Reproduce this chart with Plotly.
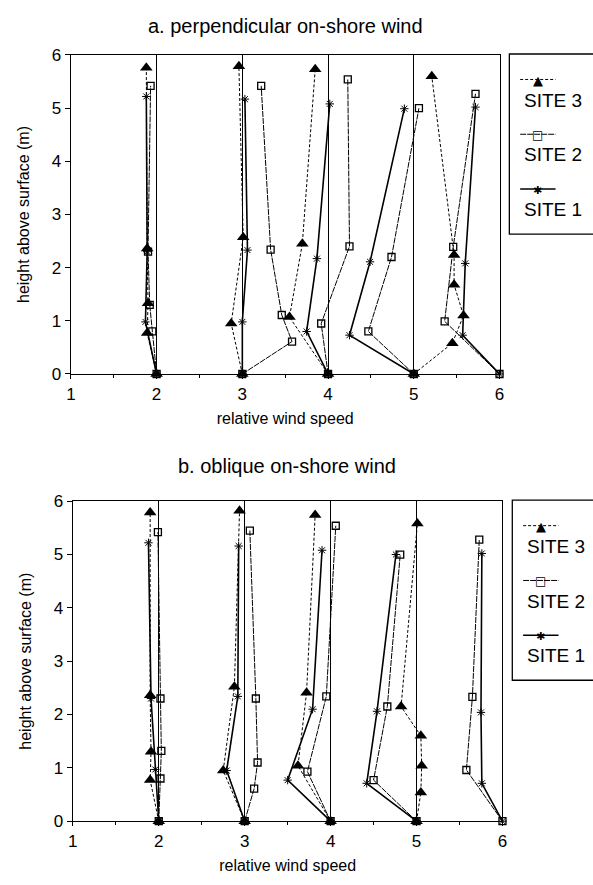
import plotly.graph_objects as go

# ---------------- data ----------------
SITES = ["SITE 3", "SITE 2", "SITE 1"]

# panel a: perpendicular on-shore wind; one list per station profile
A_SITE3_X = [[2, 1.89, 1.90, 1.89, 1.88], [3, 2.87, 3.01, 2.96], [4, 3.55, 3.70, 3.85],
             [5, 5.45, 5.58, 5.47, 5.47, 5.21]]
A_SITE3_Y = [[0, 0.77, 1.33, 2.36, 5.76], [0, 0.95, 2.57, 5.79], [0, 1.07, 2.45, 5.73],
             [0, 0.58, 1.10, 1.68, 2.24, 5.60]]
A_SITE2_X = [[2, 1.95, 1.92, 1.90, 1.93], [3, 3.58, 3.46, 3.33, 3.22], [4, 3.92, 4.25, 4.23],
             [5, 4.47, 4.74, 5.06], [6, 5.36, 5.46, 5.72]]
A_SITE2_Y = [[0, 0.80, 1.30, 2.30, 5.42], [0, 0.61, 1.11, 2.34, 5.42], [0, 0.95, 2.40, 5.54],
             [0, 0.80, 2.20, 5.00], [0, 0.99, 2.39, 5.27]]
A_SITE1_X = [[2, 1.87, 1.89, 1.88], [3, 3.00, 3.06, 3.03], [4, 3.75, 3.87, 4.02],
             [5, 4.25, 4.49, 4.89], [6, 5.57, 5.60, 5.72]]
A_SITE1_Y = [[0, 0.98, 2.30, 5.22], [0, 0.98, 2.33, 5.17], [0, 0.80, 2.17, 5.08],
             [0, 0.73, 2.11, 4.99], [0, 0.73, 2.08, 5.02]]

# panel b: oblique on-shore wind
B_SITE3_X = [[2, 1.90, 1.91, 1.90, 1.90], [3, 2.75, 2.88, 2.94], [4, 3.62, 3.72, 3.82],
             [5, 5.05, 5.06, 5.05, 4.82, 5.01]]
B_SITE3_Y = [[0, 0.77, 1.30, 2.36, 5.79], [0, 0.95, 2.52, 5.82], [0, 1.04, 2.41, 5.74],
             [0, 0.54, 1.04, 1.60, 2.15, 5.58]]
B_SITE2_X = [[2, 2.02, 2.03, 2.02, 1.99], [3, 3.11, 3.15, 3.13, 3.06], [4, 3.73, 3.95, 4.06],
             [5, 4.50, 4.66, 4.81], [6, 5.58, 5.65, 5.73]]
B_SITE2_Y = [[0, 0.80, 1.32, 2.30, 5.42], [0, 0.61, 1.10, 2.30, 5.45], [0, 0.93, 2.34, 5.54],
             [0, 0.77, 2.15, 5.00], [0, 0.96, 2.33, 5.28]]
B_SITE1_X = [[2, 1.96, 1.91, 1.88], [3, 2.79, 2.92, 2.93], [4, 3.50, 3.79, 3.90],
             [5, 4.42, 4.54, 4.76], [6, 5.76, 5.75, 5.76]]
B_SITE1_Y = [[0, 0.97, 2.30, 5.22], [0, 0.95, 2.34, 5.16], [0, 0.77, 2.10, 5.08],
             [0, 0.71, 2.06, 5.00], [0, 0.71, 2.04, 5.02]]

TITLE_A = "a. perpendicular on-shore wind"
TITLE_B = "b. oblique on-shore wind"
X_TITLE = "relative wind speed"
Y_TITLE = "height above surface (m)"

# ---------------- styles ----------------
FONT = "Liberation Sans, Arial, Helvetica, sans-serif"
DASH = {"SITE 3": "3px,2px", "SITE 2": "6px,1px", "SITE 1": "solid"}
GLYPH = {"SITE 3": ("▲", 13), "SITE 2": ("□", 12), "SITE 1": ("✱", 11)}
STYLE = {
    "SITE 3": dict(line=dict(color="black", width=1, dash=DASH["SITE 3"]),
                   marker=dict(symbol="triangle-up", size=11, color="black")),
    "SITE 2": dict(line=dict(color="black", width=1, dash=DASH["SITE 2"]),
                   marker=dict(symbol="square-open", size=7, color="black",
                               line=dict(color="black", width=1.3))),
    "SITE 1": dict(line=dict(color="black", width=1.6),
                   marker=dict(symbol="asterisk-open", size=7, color="black",
                               line=dict(color="black", width=1))),
}


def join(profiles):
    out = []
    for i, p in enumerate(profiles):
        if i:
            out.append(None)
        out.extend(p)
    return out


fig = go.Figure()

panels = [
    ("x", "y", [(A_SITE3_X, A_SITE3_Y), (A_SITE2_X, A_SITE2_Y), (A_SITE1_X, A_SITE1_Y)]),
    ("x2", "y2", [(B_SITE3_X, B_SITE3_Y), (B_SITE2_X, B_SITE2_Y), (B_SITE1_X, B_SITE1_Y)]),
]
for xa, ya, series in panels:
    for name, (xs, ys) in zip(SITES, series):
        fig.add_trace(go.Scatter(
            x=join(xs), y=join(ys), mode="lines+markers", name=name,
            xaxis=xa, yaxis=ya, showlegend=False,
            connectgaps=False, cliponaxis=False, **STYLE[name]))

W, H = 593, 885


def px_x(p):
    return p / W


def px_y(p):
    return 1 - p / H


axis_common = dict(
    range=[1, 6], dtick=1, tick0=1, showline=True, mirror=True, linecolor="black",
    linewidth=1.3, showgrid=True, gridcolor="black", gridwidth=1, zeroline=False,
    ticks="outside", ticklen=4, tickcolor="black",
    minor=dict(dtick=0.5, ticks="outside", ticklen=3, tickcolor="black", showgrid=False),
    tickfont=dict(size=17, color="black", family=FONT),
    title=dict(text=X_TITLE, font=dict(size=16, color="black", family=FONT), standoff=10),
)
yaxis_common = dict(
    range=[0, 6], dtick=1, showline=True, mirror=True, linecolor="black", linewidth=1.3,
    showgrid=False, zeroline=False, ticks="outside", ticklen=5, tickcolor="black",
    tickfont=dict(size=17, color="black", family=FONT),
    title=dict(text=Y_TITLE, font=dict(size=16, color="black", family=FONT), standoff=18),
)

# ---------------- legend boxes (symbol above label, as in the reference) ----------------
shapes = []
annotations = [
    dict(text=TITLE_A, x=px_x(285), y=px_y(17), xref="paper", yref="paper",
         xanchor="center", yanchor="middle",
         showarrow=False, font=dict(size=20, color="black", family=FONT)),
    dict(text=TITLE_B, x=px_x(287), y=px_y(467), xref="paper", yref="paper",
         xanchor="center", yanchor="middle",
         showarrow=False, font=dict(size=20, color="black", family=FONT)),
]
for left, top in [(513, 46), (516, 502)]:
    shapes.append(dict(type="rect", xref="paper", yref="paper",
                       x0=px_x(left), x1=px_x(610), y0=px_y(top + 184), y1=px_y(top),
                       line=dict(color="black", width=1.3), fillcolor="white", layer="above"))
    for i, name in enumerate(SITES):
        ys = top + 26 + i * 56
        ls = dict(color="black", width=1.6 if name == "SITE 1" else 1)
        if DASH[name] != "solid":
            ls["dash"] = DASH[name]
        shapes.append(dict(type="line", xref="paper", yref="paper",
                           x0=px_x(left + 11), x1=px_x(left + 47), y0=px_y(ys), y1=px_y(ys),
                           line=ls, layer="above"))
        g, gs = GLYPH[name]
        annotations.append(dict(text=g, x=px_x(left + 29), y=px_y(ys), xref="paper", yref="paper",
                                xanchor="center", yanchor="middle", showarrow=False, yshift=-1,
                                bgcolor="rgba(0,0,0,0)",
                                font=dict(size=gs, color="black", family="DejaVu Sans")))
        annotations.append(dict(text=name, x=px_x(left + 13), y=px_y(ys + 21), xref="paper",
                                yref="paper", xanchor="left", yanchor="middle", showarrow=False,
                                font=dict(size=19, color="black", family=FONT)))

fig.update_layout(
    width=W, height=H, margin=dict(l=0, r=0, t=0, b=0),
    paper_bgcolor="white", plot_bgcolor="white",
    font=dict(family=FONT, color="black"),
    showlegend=False,
    xaxis=dict(domain=[px_x(67), px_x(503)], anchor="y", **axis_common),
    yaxis=dict(domain=[px_y(373), px_y(47)], anchor="x", **yaxis_common),
    xaxis2=dict(domain=[px_x(69), px_x(506)], anchor="y2", **axis_common),
    yaxis2=dict(domain=[px_y(830), px_y(503)], anchor="x2", **yaxis_common),
    shapes=shapes,
    annotations=annotations,
)

fig.write_html("out.html")
